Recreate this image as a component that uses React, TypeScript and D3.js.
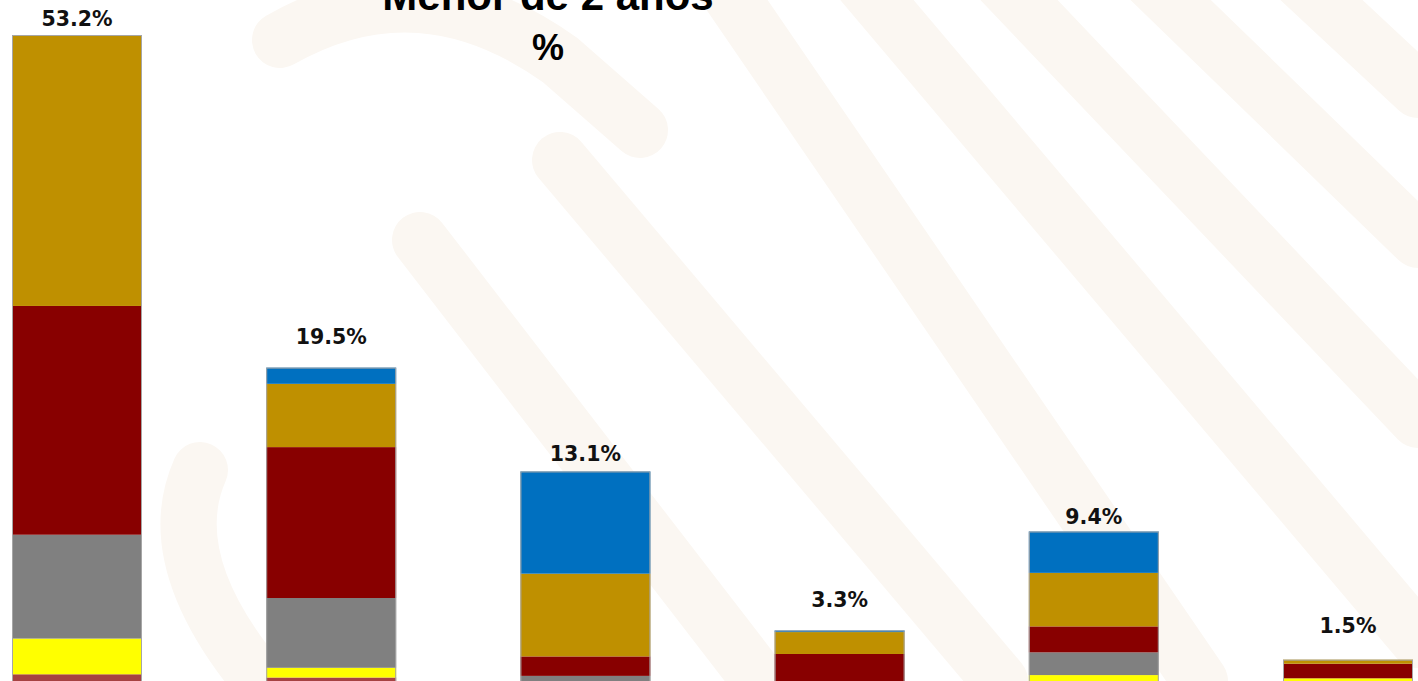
import React from "react";
import * as d3 from "d3";

// ---- data ----
const categories = ["Grupo 1", "Grupo 2", "Grupo 3", "Grupo 4", "Grupo 5", "Grupo 6"];
const seriesNames = ["Serie A", "Serie B", "Serie C", "Serie D", "Serie E", "Serie F"];
const serieA = [0.6, 0.4, 0.0, 0.0, 0.0, 0.0];
const serieB = [2.2, 0.6, 0.0, 0.0, 0.55, 0.35];
const serieC = [6.4, 4.3, 0.5, 0.0, 1.4, 0.0];
const serieD = [14.1, 9.3, 1.2, 1.85, 1.6, 0.9];
const serieE = [29.9, 3.9, 5.1, 1.35, 3.3, 0.25];
const serieF = [0.0, 1.0, 6.3, 0.1, 2.55, 0.0];
const totals = [53.2, 19.5, 13.1, 3.3, 9.4, 1.5];
const titleLines = ["Menor de 2 años", "%"];

// ---- styles / layout ----
const seriesColors = ["#a64242", "#ffff00", "#808080", "#880000", "#bf9000", "#0070c0"];
const labelGap = [9, 24, 10, 23, 7, 27];
const W = 1418;
const H = 681;

export default function App() {
  const series = [serieA, serieB, serieC, serieD, serieE, serieF];
  const rows = categories.map((c, i) => {
    const r: any = { cat: c };
    seriesNames.forEach((s, j) => (r[s] = series[j][i]));
    return r;
  });
  const stacked = d3.stack().keys(seriesNames)(rows);

  const x = d3
    .scaleBand()
    .domain(categories)
    .range([12, 1413])
    .paddingInner(0.4886)
    .paddingOuter(0);
  const y = d3.scaleLinear().domain([0, 40]).range([684, 35]).clamp(true);

  const bands = [
    "M 280 40 Q 420 -40 560 60 L 640 130",
    "M 720 -20 L 1200 681",
    "M 860 -20 L 1418 640",
    "M 1000 -20 L 1418 420",
    "M 1150 -20 L 1418 240",
    "M 560 160 L 1000 681",
    "M 420 240 L 760 681",
    "M 200 470 Q 160 560 260 681",
    "M 1300 -20 L 1418 90",
  ];

  return (
    <div style={{ position: "absolute", left: 0, top: 0 }}>
      <svg width={W} height={H} style={{ display: "block" }}>
        <rect x={0} y={0} width={W} height={H} fill="#ffffff" />
        <g fill="none" stroke="#fbf7f2" strokeWidth={56} strokeLinecap="round">
          {bands.map((d, i) => (
            <path key={i} d={d} />
          ))}
        </g>
        <g>
          {stacked.map((s, j) => (
            <g key={s.key} fill={seriesColors[j]}>
              {s.map((d, i) => {
                const y0 = y(d[0]);
                const y1 = y(d[1]);
                const h = y0 - y1;
                if (h <= 0) return null;
                return (
                  <rect
                    key={i}
                    x={x(categories[i])}
                    y={y1}
                    width={x.bandwidth()}
                    height={h}
                  />
                );
              })}
            </g>
          ))}
        </g>
        <g fill="none" stroke="#a6a6a6" strokeWidth={1}>
          {categories.map((c, i) => (
            <rect
              key={c}
              x={(x(c) as number) + 0.5}
              y={y(totals[i]) + 0.5}
              width={x.bandwidth() - 1}
              height={y(0) - y(totals[i])}
            />
          ))}
        </g>
        <g
          fontFamily="'DejaVu Sans', Verdana, sans-serif"
          fontWeight="bold"
          fontSize={20.5}
          fill="#111"
          textAnchor="middle"
        >
          {categories.map((c, i) => (
            <text
              key={c}
              x={(x(c) as number) + x.bandwidth() / 2}
              y={y(totals[i]) - labelGap[i]}
            >
              {totals[i].toFixed(1) + "%"}
            </text>
          ))}
        </g>
        <g
          fontFamily="'Liberation Sans', Arial, sans-serif"
          fontWeight="bold"
          fill="#000"
          textAnchor="middle"
        >
          <text x={548} y={10} fontSize={42}>
            {titleLines[0]}
          </text>
          <text x={548} y={60} fontSize={36}>
            {titleLines[1]}
          </text>
        </g>
      </svg>
    </div>
  );
}
